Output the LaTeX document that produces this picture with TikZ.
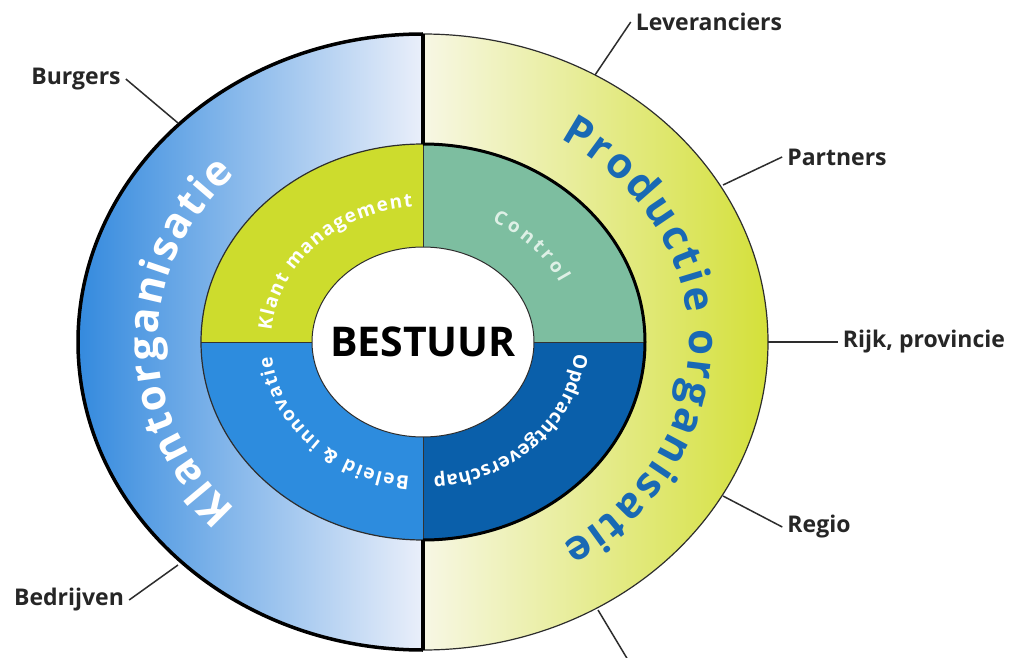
\documentclass[tikz,border=0pt]{standalone}
\usepackage{fontspec}
\setmainfont{Open Sans}
\usetikzlibrary{decorations.text,calc,shapes.geometric}
\definecolor{klantL}{RGB}{52,138,222}
\definecolor{klantR}{RGB}{234,239,250}
\definecolor{prodL}{RGB}{247,247,228}
\definecolor{prodR}{RGB}{212,224,58}
\definecolor{qKlant}{RGB}{205,220,45}
\definecolor{qControl}{RGB}{125,190,160}
\definecolor{qBeleid}{RGB}{45,140,222}
\definecolor{qOpdr}{RGB}{10,95,170}
\definecolor{prodtext}{RGB}{25,105,180}
\definecolor{linegray}{RGB}{45,45,45}
\definecolor{ctrltext}{RGB}{222,240,230}
\newcommand\bigwhite{\fontsize{42}{42}\selectfont\bfseries\color{white}}
\newcommand\bigblue{\fontsize{42}{42}\selectfont\bfseries\color{prodtext}}
\newcommand\smwhite{\fontsize{19}{19}\selectfont\bfseries\color{white}}
\newcommand\smctrl{\fontsize{19}{19}\selectfont\bfseries\color{ctrltext}}
\tikzset{
  lbl/.style={font=\fontsize{23}{23}\selectfont\bfseries, text=black!85, inner sep=5pt},
  conn/.style={draw=linegray, line width=1.5pt},
  thickline/.style={draw=black, line width=3.5pt},
  thinline/.style={draw=linegray, line width=1.2pt},
  divline/.style={draw=black!80, line width=0.9pt},
  arctext/.style={decorate, decoration={text along path, text align=fit to path}}
}
\begin{document}
\begin{tikzpicture}[x=1pt,y=1pt]
\useasboundingbox (0,0) rectangle (1010,-658);
\fill[white] (0,0) rectangle (1010,-658);
\coordinate (C) at (423,-342);
% outer halves
\shade[left color=klantL, right color=klantR] (423,-34) arc[start angle=90,end angle=270,x radius=345pt,y radius=308pt] -- (423,-540) arc[start angle=270,end angle=90,x radius=222pt,y radius=198pt] -- cycle;
\shade[left color=prodL, right color=prodR] (423,-34) arc[start angle=90,end angle=-90,x radius=345pt,y radius=308pt] -- (423,-540) arc[start angle=-90,end angle=90,x radius=222pt,y radius=198pt] -- cycle;
% inner quadrants
\fill[qKlant] (423,-144) arc[start angle=90,end angle=180,x radius=222pt,y radius=198pt] -- (312,-342) arc[start angle=180,end angle=90,x radius=111pt,y radius=95pt] -- cycle;
\fill[qControl] (423,-144) arc[start angle=90,end angle=0,x radius=222pt,y radius=198pt] -- (534,-342) arc[start angle=0,end angle=90,x radius=111pt,y radius=95pt] -- cycle;
\fill[qOpdr] (645,-342) arc[start angle=0,end angle=-90,x radius=222pt,y radius=198pt] -- (423,-437) arc[start angle=-90,end angle=0,x radius=111pt,y radius=95pt] -- cycle;
\fill[qBeleid] (201,-342) arc[start angle=180,end angle=270,x radius=222pt,y radius=198pt] -- (423,-437) arc[start angle=270,end angle=180,x radius=111pt,y radius=95pt] -- cycle;
% dividers
\draw[divline] (423,-144) -- (423,-247);
\draw[divline] (423,-437) -- (423,-540);
\draw[divline] (201,-342) -- (312,-342);
\draw[divline] (534,-342) -- (645,-342);
% centre
\node[ellipse, draw=linegray, line width=1pt, fill=white, minimum width=222pt, minimum height=190pt, inner sep=0pt] (core) at (C) {};
\node[font=\fontsize{41}{41}\selectfont\bfseries, text=black] (best) at (core.center) {BESTUUR};
% ring outlines
\draw[thinline] (423,-34) arc[start angle=90,end angle=-90,x radius=345pt,y radius=308pt];
\draw[thinline] (423,-144) arc[start angle=90,end angle=270,x radius=222pt,y radius=198pt];
\draw[thickline] (423,-34) arc[start angle=90,end angle=270,x radius=345pt,y radius=308pt];
\draw[draw=black, line width=3pt] (423,-144) arc[start angle=90,end angle=-90,x radius=222pt,y radius=198pt];
\draw[draw=black, line width=4pt] (423,-34) -- (423,-144);
\draw[draw=black, line width=4pt] (423,-540) -- (423,-650);
% curved texts
\path[arctext, decoration={text={|\bigwhite|Klantorganisatie}}] ($(C)+(225:265pt and 237pt)$) arc[start angle=225,end angle=135,x radius=265pt,y radius=237pt];
\path[arctext, decoration={text={|\bigblue|Productie organisatie}}] ($(C)+(59:266pt and 237pt)$) arc[start angle=59,end angle=-58.5,x radius=266pt,y radius=237pt];
\path[arctext, decoration={text={|\smwhite|Klant management}}] ($(C)+(175:152pt and 135pt)$) arc[start angle=175,end angle=94,x radius=152pt,y radius=135pt];
\path[arctext, decoration={text={|\smctrl|Control}}] ($(C)+(63:152pt and 135pt)$) arc[start angle=63,end angle=26,x radius=152pt,y radius=135pt];
\path[arctext, decoration={text={|\smwhite|Opdrachtgeverschap}}] ($(C)+(-5:152pt and 135pt)$) arc[start angle=-5,end angle=-86,x radius=152pt,y radius=135pt];
\path[arctext, decoration={text={|\smwhite|Beleid {\&} innovatie}}] ($(C)+(265:152pt and 135pt)$) arc[start angle=265,end angle=186,x radius=152pt,y radius=135pt];
% labels
\node[lbl] (burg) at (76,-79) {Burgers};
\node[lbl] (lev) at (709,-22) {Leveranciers};
\node[lbl] (part) at (837,-157) {Partners};
\node[lbl] (rijk) at (924,-342) {Rijk, provincie};
\node[lbl] (regio) at (819,-527) {Regio};
\node[lbl] (bedr) at (69,-600) {Bedrijven};
\coordinate (eBurg) at (178,-123);
\coordinate (eLev) at (595,-75);
\coordinate (ePart) at (723,-185);
\coordinate (eRijk) at (768,-342);
\coordinate (eRegio) at (723,-496);
\coordinate (eBot) at (598,-610);
\coordinate (fBot) at (628,-660);
\coordinate (eBedr) at (178,-565);
\draw[conn] (burg.east) -- (eBurg);
\draw[conn] (lev.west) -- (eLev);
\draw[conn] (part.west) -- (ePart);
\draw[conn] (rijk.west) -- (eRijk);
\draw[conn] (regio.west) -- (eRegio);
\draw[conn] (eBot) -- (fBot);
\draw[conn] (bedr.east) -- (eBedr);
\end{tikzpicture}
\end{document}
